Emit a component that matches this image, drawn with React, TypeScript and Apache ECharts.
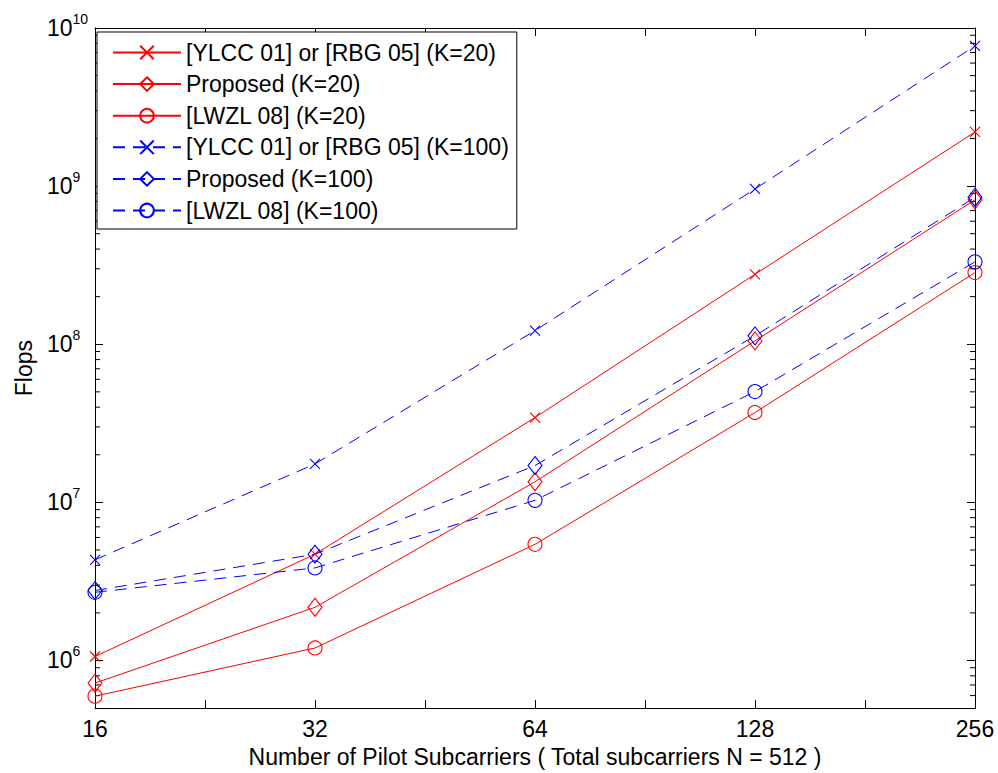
import React, { useEffect, useRef } from "react";
import * as echarts from "echarts";

const pilots = [16, 32, 64, 128, 256];
const ylccK20 = [1.06e6, 4.7e6, 3.44e7, 2.77e8, 2.2e9];
const proposedK20 = [7.2e5, 2.17e6, 1.35e7, 1.05e8, 8.2e8];
const lwzlK20 = [5.95e5, 1.2e6, 5.43e6, 3.7e7, 2.84e8];
const ylccK100 = [4.33e6, 1.75e7, 1.22e8, 9.6e8, 7.7e9];
const proposedK100 = [2.77e6, 4.7e6, 1.71e7, 1.13e8, 8.5e8];
const lwzlK100 = [2.7e6, 3.85e6, 1.03e7, 5.02e7, 3.32e8];

const seriesNames = [
  "[YLCC 01] or [RBG 05] (K=20)",
  "Proposed (K=20)",
  "[LWZL 08] (K=20)",
  "[YLCC 01] or [RBG 05] (K=100)",
  "Proposed (K=100)",
  "[LWZL 08] (K=100)",
];

const yMinorTicks = [
  6e5, 7e5, 8e5, 9e5,
  2e6, 3e6, 4e6, 5e6, 6e6, 7e6, 8e6, 9e6,
  2e7, 3e7, 4e7, 5e7, 6e7, 7e7, 8e7, 9e7,
  2e8, 3e8, 4e8, 5e8, 6e8, 7e8, 8e8, 9e8,
  2e9, 3e9, 4e9, 5e9, 6e9, 7e9, 8e9, 9e9,
];

const FONT = "Liberation Sans, Arial, Helvetica, sans-serif";
const FS = 23;
const RED = "#ff0000";
const BLUE = "#0000ff";
const CROSS = "path://M0,0L10,10M10,0L0,10";
const DIAMOND = "path://M5,0L10,10L5,20L0,10Z";

function pairs(vals: number[]) {
  return pilots.map((x, i) => [x, vals[i]]);
}

function lineSeries(name: string, vals: number[], color: string, dashed: boolean, symbol: string, size: any) {
  return {
    type: "line",
    name,
    data: pairs(vals),
    symbol,
    symbolSize: size,
    showSymbol: true,
    lineStyle: { color, width: 1, type: dashed ? [12, 8] : "solid" },
    itemStyle: { color: "rgba(0,0,0,0)", borderColor: color, borderWidth: 1.1 },
    emphasis: { disabled: true },
    z: 3,
  };
}

function isPow(v: number, base: number) {
  const e = Math.log(v) / Math.log(base);
  return Math.abs(e - Math.round(e)) < 1e-6;
}

export default function App() {
  const ref = useRef<HTMLDivElement>(null);
  useEffect(() => {
    if (!ref.current) return;
    const chart = echarts.init(ref.current, null, { renderer: "svg" });
    const axisCommon = {
      axisLine: { show: true, lineStyle: { color: "#000", width: 1 } },
      axisTick: { show: true, inside: true, length: 8, lineStyle: { color: "#000", width: 1 } },
      splitLine: { show: false },
      minorTick: { show: false },
    };
    const xBase = {
      type: "log",
      logBase: Math.SQRT2,
      min: 16,
      max: 256,
      ...axisCommon,
    };
    const yBase = {
      type: "log",
      logBase: 10,
      min: 5e5,
      max: 1e10,
      ...axisCommon,
    };
    const option: any = {
      animation: false,
      backgroundColor: "#fff",
      textStyle: { fontFamily: FONT },
      grid: { left: 95, right: 23, top: 28, bottom: 61, show: false },
      legend: {
        data: seriesNames,
        orient: "vertical",
        left: 97,
        top: 32,
        backgroundColor: "#fff",
        borderColor: "#000",
        borderWidth: 1,
        borderRadius: 0,
        padding: [9, 8, 7, 15],
        itemWidth: 68,
        itemHeight: 17,
        itemGap: 8.6,
        selectedMode: false,
        textStyle: { fontSize: FS, color: "#000", fontFamily: FONT },
      },
      xAxis: [
        {
          ...xBase,
          position: "bottom",
          name: "Number of Pilot Subcarriers ( Total subcarriers N = 512 )",
          nameLocation: "middle",
          nameGap: 35,
          nameTextStyle: { fontSize: FS, color: "#000", fontFamily: FONT },
          axisLabel: {
            show: true,
            margin: 9,
            fontSize: FS,
            color: "#000",
            fontFamily: FONT,
            formatter: (v: number) => (isPow(v, 2) ? String(Math.round(v)) : ""),
          },
        },
        {
          ...xBase,
          position: "top",
          axisLabel: { show: false },
        },
      ],
      yAxis: [
        {
          ...yBase,
          position: "left",
          name: "Flops",
          nameLocation: "middle",
          nameGap: 60,
          nameRotate: 90,
          nameTextStyle: { fontSize: FS, color: "#000", fontFamily: FONT },
          axisLabel: {
            show: true,
            margin: 48,
            align: "left",
            color: "#000",
            formatter: (v: number) => {
              if (!isPow(v, 10)) return "";
              const e = Math.round(Math.log10(v));
              return "{b|10}{s|" + e + "}";
            },
            rich: {
              b: { fontSize: FS, color: "#000", fontFamily: FONT },
              s: { fontSize: 14, color: "#000", fontFamily: FONT, padding: [0, 0, 18, 0] },
            },
          },
        },
        {
          ...yBase,
          position: "right",
          axisLabel: { show: false },
        },
      ],
      series: [
        lineSeries(seriesNames[0], ylccK20, RED, false, CROSS, 10),
        lineSeries(seriesNames[1], proposedK20, RED, false, DIAMOND, [14, 18]),
        lineSeries(seriesNames[2], lwzlK20, RED, false, "circle", 14),
        lineSeries(seriesNames[3], ylccK100, BLUE, true, CROSS, 10),
        lineSeries(seriesNames[4], proposedK100, BLUE, true, DIAMOND, [14, 18]),
        lineSeries(seriesNames[5], lwzlK100, BLUE, true, "circle", 14),
        {
          type: "custom",
          name: "minorTicks",
          xAxisIndex: 0,
          yAxisIndex: 0,
          silent: true,
          data: yMinorTicks.map((v) => [16, v]),
          encode: { x: 0, y: 1 },
          renderItem: (params: any, api: any) => {
            const v = api.value(1);
            const l = api.coord([16, v]);
            const r = api.coord([256, v]);
            return {
              type: "group",
              children: [
                { type: "line", shape: { x1: l[0], y1: l[1], x2: l[0] + 5, y2: l[1] }, style: { stroke: "#000", lineWidth: 1 } },
                { type: "line", shape: { x1: r[0], y1: r[1], x2: r[0] - 5, y2: r[1] }, style: { stroke: "#000", lineWidth: 1 } },
              ],
            };
          },
          z: 1,
        },
      ],
    };
    chart.setOption(option);
    return () => chart.dispose();
  }, []);
  return (
    <div
      ref={ref}
      style={{ position: "absolute", left: 0, top: 0, width: 998, height: 773, background: "#fff" }}
    />
  );
}
